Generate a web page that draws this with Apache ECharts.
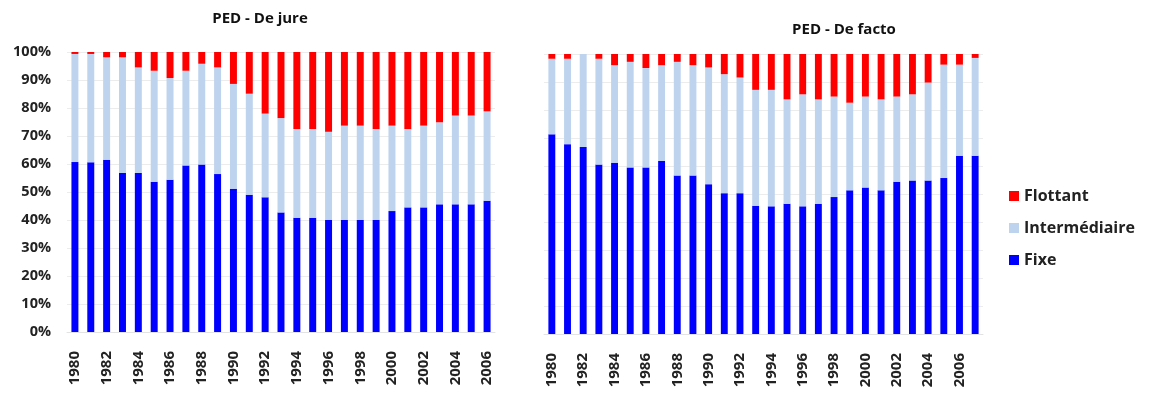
<!DOCTYPE html>
<html>
<head>
<meta charset="utf-8">
<script src="https://cdn.jsdelivr.net/npm/echarts@6/dist/echarts.min.js"></script>
<style>
html,body{margin:0;padding:0;background:#fff;}
#chart{width:1156px;height:403px;}
</style>
</head>
<body>
<div id="chart"></div>
<script>
// ---- Data ----
const yearsJure = ['1980','1981','1982','1983','1984','1985','1986','1987','1988','1989','1990','1991','1992','1993','1994','1995','1996','1997','1998','1999','2000','2001','2002','2003','2004','2005','2006'];
const jureFixe = [60.7,60.6,61.5,56.8,56.8,53.7,54.4,59.5,59.8,56.4,51.2,49.0,48.1,42.7,40.8,40.8,40.0,40.0,40.0,40.0,43.2,44.5,44.5,45.6,45.6,45.6,46.9];
const jureInter = [38.6,38.7,36.6,41.3,37.7,39.6,36.3,33.8,36.0,38.1,37.4,36.1,29.9,33.7,31.7,31.7,31.5,33.7,33.7,32.5,30.5,28.0,29.2,29.3,31.7,31.7,31.9];
const jureFlot = [0.7,0.7,1.9,1.9,5.5,6.7,9.3,6.7,4.2,5.5,11.4,14.9,22.0,23.6,27.5,27.5,28.5,26.3,26.3,27.5,26.3,27.5,26.3,25.1,22.7,22.7,21.2];

const yearsFacto = ['1980','1981','1982','1983','1984','1985','1986','1987','1988','1989','1990','1991','1992','1993','1994','1995','1996','1997','1998','1999','2000','2001','2002','2003','2004','2005','2006','2007'];
const factoFixe = [71.3,67.8,66.8,60.5,61.2,59.5,59.5,61.8,56.6,56.6,53.5,50.3,50.3,45.8,45.6,46.5,45.6,46.5,48.9,51.3,52.3,51.3,54.4,54.8,54.8,55.7,63.7,63.7];
const factoInter = [27.0,30.5,33.2,37.8,34.8,37.7,35.5,34.2,40.6,39.4,41.7,42.5,41.3,41.4,41.6,37.3,40.0,37.3,35.9,31.3,32.5,32.5,30.4,30.8,35.0,40.5,32.5,34.9];
const factoFlot = [1.7,1.7,0,1.7,4.0,2.8,5.0,4.0,2.8,4.0,4.8,7.2,8.4,12.8,12.8,16.2,14.4,16.2,15.2,17.4,15.2,16.2,15.2,14.4,10.2,3.8,3.8,1.4];

const yTicks = {min: 0, max: 100, interval: 10};
const titles = ['PED - De jure', 'PED - De facto'];
const names = ['Fixe', 'Intermédiaire', 'Flottant'];
const colors = {'Fixe': '#0000FF', 'Intermédiaire': '#BDD3EE', 'Flottant': '#FF0000'};

// ---- Chart ----
const font = '"Open Sans", sans-serif';
const chart = echarts.init(document.getElementById('chart'), null, {renderer: 'canvas'});

function xAxis(idx, data) {
  return {
    type: 'category', gridIndex: idx, data: data,
    axisLine: {show: true, lineStyle: {color: '#e3e3e3'}},
    axisTick: {show: false},
    axisLabel: {rotate: 90, interval: 1, margin: 19, fontFamily: font, fontWeight: 'bold', fontSize: 15, color: '#222'}
  };
}
function yAxis(idx, showLabels) {
  return {
    type: 'value', gridIndex: idx, min: yTicks.min, max: yTicks.max, interval: yTicks.interval,
    axisLine: {show: false}, axisTick: {show: false},
    splitLine: {lineStyle: {color: '#ececec'}},
    axisLabel: {show: showLabels, formatter: '{value}%', fontFamily: font, fontWeight: 'bold', fontSize: 14.5, color: '#222', margin: 16}
  };
}
function mk(name, idx, data, stack) {
  return {
    name: name, type: 'bar', stack: stack, xAxisIndex: idx, yAxisIndex: idx,
    data: data, barWidth: '44%', itemStyle: {color: colors[name]}
  };
}

chart.setOption({
  animation: false,
  backgroundColor: '#fff',
  title: [
    {text: titles[0], left: 255, top: 6, textAlign: 'center', textStyle: {fontFamily: font, fontWeight: 'bold', fontSize: 15, color: '#111'}},
    {text: titles[1], left: 839, top: 17, textAlign: 'center', textStyle: {fontFamily: font, fontWeight: 'bold', fontSize: 15, color: '#111'}}
  ],
  legend: {
    orient: 'vertical', left: 1004, top: 183, itemGap: 16, itemWidth: 10, itemHeight: 10,
    icon: 'rect',
    data: ['Flottant', 'Intermédiaire', 'Fixe'],
    textStyle: {fontFamily: font, fontWeight: 'bold', fontSize: 16, color: '#222'}
  },
  grid: [
    {left: 67, top: 52, width: 428, height: 280},
    {left: 544, top: 54, width: 439, height: 280}
  ],
  xAxis: [xAxis(0, yearsJure), xAxis(1, yearsFacto)],
  yAxis: [yAxis(0, true), yAxis(1, false)],
  series: [
    mk('Fixe', 0, jureFixe, 'a'),
    mk('Intermédiaire', 0, jureInter, 'a'),
    mk('Flottant', 0, jureFlot, 'a'),
    mk('Fixe', 1, factoFixe, 'b'),
    mk('Intermédiaire', 1, factoInter, 'b'),
    mk('Flottant', 1, factoFlot, 'b')
  ]
});
</script>
</body>
</html>
